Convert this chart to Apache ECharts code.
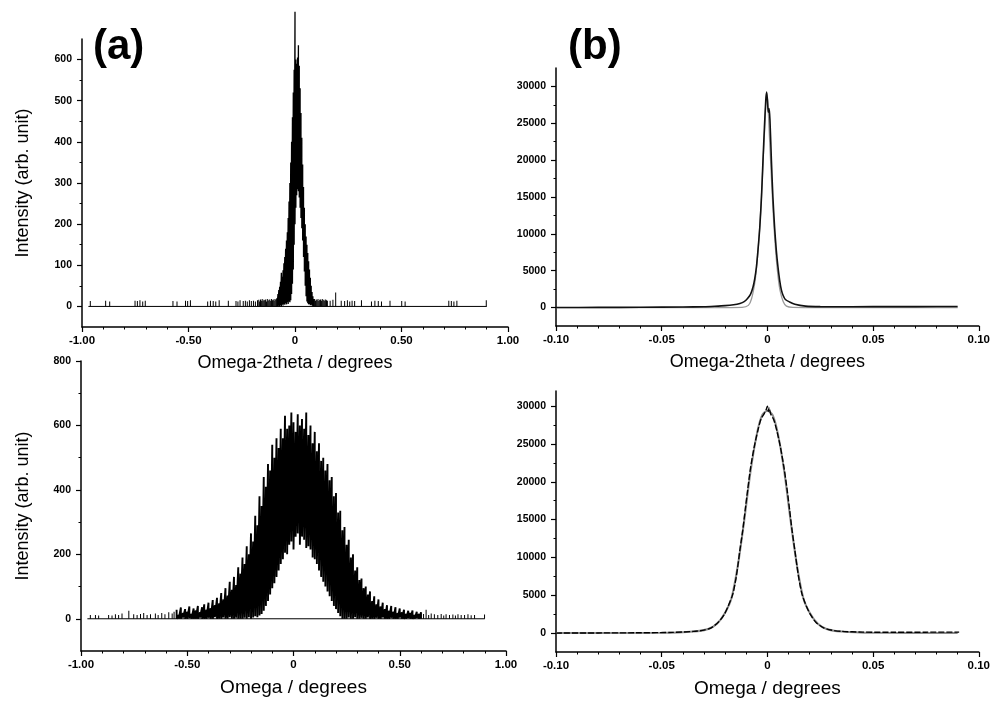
<!DOCTYPE html>
<html><head><meta charset="utf-8">
<script src="https://cdn.jsdelivr.net/npm/echarts@6/dist/echarts.min.js"></script>
<style>html,body{margin:0;padding:0;background:#fff}#c{width:993px;height:704px}</style>
</head><body><div id="c"></div>
<script>
const FONT = '"Liberation Sans", Arial, sans-serif';

// ---------- tick labels ----------
const aXTicks = [-1, -0.5, 0, 0.5, 1];
const aXTickLabels = ['-1.00', '-0.50', '0', '0.50', '1.00'];
const bXTicks = [-0.1, -0.05, 0, 0.05, 0.1];
const bXTickLabels = ['-0.10', '-0.05', '0', '0.05', '0.10'];
const aTopYTicks = [0, 100, 200, 300, 400, 500, 600];
const aTopYMinor = [50, 150, 250, 350, 450, 550];
const aBotYTicks = [0, 200, 400, 600, 800];
const aBotYMinor = [100, 300, 500, 700];
const bYTicks = [0, 5000, 10000, 15000, 20000, 25000, 30000];
const bYMinor = [2500, 7500, 12500, 17500, 22500, 27500];

// ---------- (a) top: Omega-2theta, wide range ----------
const aTopBaseX = [-0.97, 0.90];
const aTopBaseY = [0, 0];
const aTopSpikeX = [
  -0.961, -0.889, -0.870, -0.751, -0.740, -0.728, -0.715, -0.703,
  -0.573, -0.554, -0.514, -0.504, -0.491, -0.410, -0.397, -0.384, -0.372, -0.356,
  -0.313, -0.277, -0.268, -0.258, -0.243, -0.233, -0.224, -0.214, -0.205, -0.195, -0.186, -0.176,
  -0.170, -0.166, -0.162, -0.158, -0.154, -0.150, -0.146, -0.142, -0.138, -0.134, -0.130,
  -0.126, -0.122, -0.118, -0.114, -0.110, -0.106, -0.102, -0.098, -0.094, -0.090, -0.086,
  0.092, 0.096, 0.100, 0.104, 0.108, 0.112, 0.116, 0.120, 0.124, 0.128, 0.132, 0.136, 0.140, 0.144, 0.148, 0.152,
  0.165, 0.178, 0.191, 0.217, 0.233, 0.246, 0.257, 0.268, 0.280, 0.312, 0.359, 0.375, 0.391, 0.406,
  0.446, 0.501, 0.517, 0.722, 0.734, 0.746, 0.760, 0.898
];
const aTopSpikeH = [
  13, 14, 12, 14, 13, 15, 12, 14,
  13, 12, 14, 13, 15, 12, 14, 13, 12, 15,
  14, 13, 12, 15, 13, 14, 12, 15, 13, 14, 12, 15,
  16, 12, 17, 14, 18, 13, 16, 15, 17, 12, 18,
  14, 16, 17, 13, 18, 15, 17, 14, 18, 16, 20,
  18, 14, 17, 15, 18, 13, 16, 17, 14, 18, 15, 16, 13, 17, 15, 14,
  14, 16, 34, 14, 13, 15, 12, 14, 13, 15, 12, 14, 13, 12,
  14, 13, 12, 14, 13, 12, 14, 15
];
const aTopPeakX = [
  -0.084, -0.080, -0.076, -0.072, -0.068, -0.064, -0.060, -0.056, -0.052, -0.048, -0.044,
  -0.040, -0.036, -0.032, -0.028, -0.024, -0.020, -0.016, -0.012, -0.008, -0.004, 0.000,
  0.004, 0.008, 0.012, 0.016, 0.020, 0.024, 0.028, 0.032, 0.036, 0.040, 0.044,
  0.048, 0.052, 0.056, 0.060, 0.064, 0.068, 0.072, 0.076, 0.080, 0.084, 0.088
];
const aTopPeakHi = [
  18, 30, 40, 48, 60, 82, 72, 88, 105, 120, 140,
  160, 180, 215, 255, 300, 350, 400, 460, 520, 575, 716,
  600, 590, 605, 635, 585, 530, 470, 410, 345, 290, 240,
  200, 170, 150, 130, 110, 90, 70, 50, 35, 25, 18
];
const aTopPeakLo = [
  0, 0, 2, 0, 3, 0, 5, 2, 6, 4, 8,
  5, 10, 6, 12, 10, 15, 30, 55, 90, 150, 200,
  240, 270, 285, 280, 265, 240, 215, 190, 160, 120, 85,
  50, 25, 12, 8, 5, 6, 3, 4, 2, 0, 0
];

// ---------- (b) top: Omega-2theta, narrow range ----------
const bTopX = [-0.100, -0.080, -0.060, -0.040, -0.030, -0.025, -0.020, -0.016, -0.013, -0.011,
  -0.0095, -0.008, -0.0068, -0.006, -0.0052, -0.0044, -0.0036, -0.0028, -0.0021, -0.0014,
  -0.0008, -0.0004, 0.0000, 0.0004, 0.0008, 0.0012, 0.0019, 0.0026, 0.0034, 0.0042,
  0.0050, 0.0058, 0.0066, 0.0075, 0.0085, 0.0105, 0.0130, 0.0180, 0.0250, 0.0400,
  0.0600, 0.0800, 0.0900];
const bTopY = [0, 20, 40, 80, 120, 180, 260, 380, 560, 800,
  1200, 1800, 2800, 3900, 5500, 8000, 10900, 15000, 19900, 24500,
  28000, 29200, 28200, 26500, 27000, 25500, 19900, 15000, 10900, 7800,
  5500, 3700, 2400, 1600, 1100, 760, 450, 200, 130, 120,
  130, 140, 150];
const bTopFitX = [-0.100, -0.020, -0.012, -0.009, -0.0075, -0.006, -0.005, -0.004, -0.003, -0.002,
  -0.001, -0.0004, 0.0002, 0.001, 0.002, 0.003, 0.004, 0.005, 0.006, 0.0075,
  0.009, 0.012, 0.020, 0.090];
const bTopFitY = [0, 0, 20, 300, 1200, 3300, 5800, 9300, 14000, 20000,
  26000, 29300, 27800, 23000, 17000, 11500, 7300, 4300, 2300, 800,
  200, 20, 0, 0];

// ---------- (a) bottom: Omega, wide range ----------
const aBotBaseX = [-0.97, 0.90];
const aBotBaseY = [0, 0];
const aBotSpikeX = [-0.956, -0.932, -0.917, -0.870, -0.854, -0.838, -0.823, -0.807, -0.775, -0.752,
  -0.736, -0.720, -0.705, -0.689, -0.673, -0.650, -0.637, -0.620, -0.605, -0.587, -0.571, -0.562,
  0.612, 0.624, 0.636, 0.648, 0.663, 0.679, 0.695, 0.707, 0.718, 0.734,
  0.750, 0.762, 0.774, 0.789, 0.805, 0.821, 0.836, 0.852, 0.899];
const aBotSpikeH = [12, 12, 10, 12, 10, 14, 12, 16, 25, 14,
  12, 15, 18, 12, 14, 16, 12, 18, 14, 20, 16, 22,
  15, 28, 12, 16, 14, 12, 15, 10, 14, 12,
  13, 10, 14, 12, 12, 14, 11, 12, 13];
const aBotNoiseX = [
  -0.55, -0.54, -0.53, -0.52, -0.51, -0.50, -0.49, -0.48, -0.47, -0.46,
  -0.45, -0.44, -0.43, -0.42, -0.41, -0.40, -0.39, -0.38, -0.37, -0.36,
  -0.35, -0.34, -0.33, -0.32, -0.31, -0.30, -0.29, -0.28, -0.27, -0.26,
  -0.25, -0.24, -0.23, -0.22, -0.21, -0.20, -0.19, -0.18, -0.17, -0.16,
  -0.15, -0.14, -0.13, -0.12, -0.11, -0.10, -0.09, -0.08, -0.07, -0.06,
  -0.05, -0.04, -0.03, -0.02, -0.01, 0.00, 0.01, 0.02, 0.03, 0.04,
  0.05, 0.06, 0.07, 0.08, 0.09, 0.10, 0.11, 0.12, 0.13, 0.14,
  0.15, 0.16, 0.17, 0.18, 0.19, 0.20, 0.21, 0.22, 0.23, 0.24,
  0.25, 0.26, 0.27, 0.28, 0.29, 0.30, 0.31, 0.32, 0.33, 0.34,
  0.35, 0.36, 0.37, 0.38, 0.39, 0.40, 0.41, 0.42, 0.43, 0.44,
  0.45, 0.46, 0.47, 0.48, 0.49, 0.50, 0.51, 0.52, 0.53, 0.54,
  0.55, 0.56, 0.57, 0.58, 0.59, 0.60
];
const aBotNoiseHi = [
  28, 12, 35, 18, 30, 22, 38, 15, 32, 26,
  40, 20, 36, 45, 28, 50, 33, 58, 42, 65,
  48, 80, 60, 95, 72, 115, 90, 130, 105, 160,
  140, 190, 170, 225, 200, 265, 240, 320, 290, 380,
  350, 440, 410, 480, 460, 540, 500, 560, 530, 590,
  560, 630, 590, 600, 640, 610, 580, 635, 600, 620,
  590, 640, 570, 600, 545, 580, 520, 545, 490, 500,
  460, 480, 430, 440, 380, 390, 330, 335, 275, 285,
  230, 245, 190, 200, 150, 160, 120, 125, 95, 100,
  75, 85, 55, 70, 45, 60, 38, 50, 30, 42,
  25, 40, 22, 36, 18, 32, 20, 28, 15, 25,
  18, 26, 12, 22, 15, 20
];
const aBotNoiseLo = [
  0, 0, 0, 4, 0, 0, 3, 0, 0, 0,
  0, 4, 0, 0, 0, 3, 0, 0, 5, 0,
  0, 0, 4, 0, 0, 5, 0, 0, 3, 0,
  0, 0, 3, 0, 5, 0, 4, 8, 5, 10,
  15, 25, 40, 55, 75, 95, 110, 130, 150, 170,
  185, 205, 200, 230, 240, 215, 255, 265, 230, 255,
  245, 220, 225, 215, 190, 185, 170, 150, 130, 115,
  100, 85, 70, 55, 40, 30, 18, 8, 0, 0,
  0, 4, 0, 0, 5, 0, 0, 3, 0, 0,
  4, 0, 0, 0, 3, 0, 0, 4, 0, 0,
  0, 3, 0, 0, 0, 4, 0, 0, 0, 3,
  0, 0, 0, 3, 0, 0
];

// ---------- (b) bottom: Omega, narrow range ----------
const bBotX = [-0.100, -0.080, -0.060, -0.045, -0.035, -0.030, -0.0266, -0.023, -0.0204, -0.0185,
  -0.0164, -0.015, -0.0141, -0.013, -0.0117, -0.0105, -0.0094, -0.008, -0.0063, -0.0045,
  -0.003, -0.0015, -0.0005, 0.0000, 0.0004, 0.0008, 0.0015, 0.003, 0.0045, 0.0062,
  0.008, 0.0094, 0.0105, 0.0117, 0.013, 0.0141, 0.015, 0.0164, 0.0185, 0.0203,
  0.023, 0.0266, 0.030, 0.035, 0.045, 0.060, 0.075, 0.0907];
const bBotY = [0, 20, 40, 90, 220, 400, 700, 1500, 2470, 3600,
  5120, 7000, 8640, 11000, 13500, 16300, 18790, 21800, 24520, 26800,
  28300, 29000, 29600, 30000, 29300, 29800, 29000, 28200, 26700, 24520,
  21600, 18790, 16300, 13500, 10900, 8640, 7000, 5120, 3500, 2470,
  1400, 700, 400, 230, 130, 110, 120, 130];
const bBotFitX = [-0.100, -0.050, -0.035, -0.028, -0.024, -0.020, -0.017, -0.014, -0.011, -0.008,
  -0.005, -0.0025, 0.000, 0.0025, 0.005, 0.008, 0.011, 0.014, 0.017, 0.020,
  0.024, 0.028, 0.035, 0.050, 0.090];
const bBotFitY = [0, 30, 200, 550, 1200, 2700, 4600, 8900, 14800, 21300,
  26300, 28800, 29400, 28800, 26300, 21300, 14800, 8900, 4600, 2700,
  1200, 550, 200, 30, 0];

// ---------- helpers ----------
const pairs = (xs, ys) => xs.map((x, i) => [x, ys[i]]);
const zig = (xs, hi, lo) => {
  const out = [];
  xs.forEach((x, i) => { out.push([x, hi[i]]); out.push([x, lo[i]]); });
  return out;
};
const lookup = (ticks, labels) => v => {
  for (let i = 0; i < ticks.length; i++) if (Math.abs(ticks[i] - v) < 1e-9) return labels[i];
  return '';
};

const tickLabelStyle = { color: '#000', fontFamily: FONT, fontWeight: 'bold' };
const nameStyle = (size) => ({ color: '#000', fontFamily: FONT, fontSize: size });

function xAx(grid, min, max, interval, ticks, labels, name, nameSize) {
  return {
    type: 'value', gridIndex: grid, min: min, max: max, interval: interval, position: 'bottom',
    axisLine: { show: true, onZero: false, lineStyle: { color: '#000', width: 1.5 } },
    axisTick: { show: true, length: 5, lineStyle: { color: '#000', width: 1.2 } },
    minorTick: { show: true, splitNumber: 5, length: 2.5, lineStyle: { color: '#000', width: 1 } },
    splitLine: { show: false }, minorSplitLine: { show: false },
    axisLabel: Object.assign({ margin: 8, fontSize: 11.5, formatter: lookup(ticks, labels) }, tickLabelStyle),
    name: name, nameLocation: 'middle', nameGap: 27, nameTextStyle: nameStyle(nameSize)
  };
}
function yAx(grid, min, max, ticks, name, gap) {
  return {
    type: 'value', gridIndex: grid, min: min, max: max, position: 'left',
    axisLine: { show: true, onZero: false, lineStyle: { color: '#000', width: 1.5 } },
    axisTick: { show: true, length: 5, customValues: ticks, lineStyle: { color: '#000', width: 1.2 } },
    axisLabel: Object.assign({ margin: 10, fontSize: 10.5, customValues: ticks, formatter: v => String(v) }, tickLabelStyle),
    splitLine: { show: false },
    name: name || '', nameLocation: 'middle', nameGap: gap || 0, nameTextStyle: nameStyle(18)
  };
}
function yMinor(grid, min, max, ticks) {
  return {
    type: 'value', gridIndex: grid, min: min, max: max, position: 'left',
    axisLine: { show: false, onZero: false },
    axisTick: { show: true, length: 2.5, customValues: ticks, lineStyle: { color: '#000', width: 1 } },
    axisLabel: { show: false }, splitLine: { show: false }
  };
}

const chart = echarts.init(document.getElementById('c'), null, { renderer: 'canvas' });
const black = { color: '#000', width: 1 };
chart.setOption({
  animation: false,
  backgroundColor: '#fff',
  title: [
    { text: '(a)', left: 93, top: 26, padding: 0, textStyle: { fontFamily: FONT, fontSize: 42, fontWeight: 'bold', color: '#000' } },
    { text: '(b)', left: 568, top: 26, padding: 0, textStyle: { fontFamily: FONT, fontSize: 42, fontWeight: 'bold', color: '#000' } }
  ],
  grid: [
    { left: 82, top: 39, width: 426, height: 288 },
    { left: 556, top: 68, width: 427, height: 258 },
    { left: 81, top: 361, width: 425, height: 290 },
    { left: 556, top: 391, width: 427, height: 261 }
  ],
  xAxis: [
    xAx(0, -1, 1, 0.5, aXTicks, aXTickLabels, 'Omega-2theta / degrees', 18),
    xAx(1, -0.1, 0.1, 0.05, bXTicks, bXTickLabels, 'Omega-2theta / degrees', 18),
    xAx(2, -1, 1, 0.5, aXTicks, aXTickLabels, 'Omega / degrees', 19),
    xAx(3, -0.1, 0.1, 0.05, bXTicks, bXTickLabels, 'Omega / degrees', 19)
  ],
  yAxis: [
    yAx(0, -50, 650, aTopYTicks, 'Intensity (arb. unit)', 50),
    yAx(1, -2500, 32500, bYTicks),
    yAx(2, -100, 800, aBotYTicks, 'Intensity (arb. unit)', 49),
    yAx(3, -2500, 32000, bYTicks),
    yMinor(0, -50, 650, aTopYMinor),
    yMinor(1, -2500, 32500, bYMinor),
    yMinor(2, -100, 800, aBotYMinor),
    yMinor(3, -2500, 32000, bYMinor)
  ],
  series: [
    { type: 'line', xAxisIndex: 0, yAxisIndex: 0, data: pairs(aTopBaseX, aTopBaseY), symbol: 'none', lineStyle: black },
    { type: 'bar', xAxisIndex: 0, yAxisIndex: 0, data: pairs(aTopSpikeX, aTopSpikeH), barWidth: 1, itemStyle: { color: '#000' } },
    { type: 'line', xAxisIndex: 0, yAxisIndex: 0, data: zig(aTopPeakX, aTopPeakHi, aTopPeakLo), symbol: 'none', clip: false, lineStyle: { color: '#000', width: 1.3 } },

    { type: 'line', xAxisIndex: 1, yAxisIndex: 1, data: pairs(bTopFitX, bTopFitY), symbol: 'none', smooth: 0.25, lineStyle: { color: '#9a9a9a', width: 1.3 } },
    { type: 'line', xAxisIndex: 1, yAxisIndex: 1, data: pairs(bTopX, bTopY), symbol: 'none', smooth: 0.25, lineStyle: { color: '#111', width: 1.6 } },

    { type: 'line', xAxisIndex: 2, yAxisIndex: 2, data: pairs(aBotBaseX, aBotBaseY), symbol: 'none', lineStyle: black },
    { type: 'bar', xAxisIndex: 2, yAxisIndex: 2, data: pairs(aBotSpikeX, aBotSpikeH), barWidth: 1, itemStyle: { color: '#000' } },
    { type: 'line', xAxisIndex: 2, yAxisIndex: 2, data: zig(aBotNoiseX, aBotNoiseHi, aBotNoiseLo), symbol: 'none', lineStyle: { color: '#000', width: 1.9 } },

    { type: 'line', xAxisIndex: 3, yAxisIndex: 3, data: pairs(bBotFitX, bBotFitY), symbol: 'none', smooth: 0.25, lineStyle: { color: '#8a8a8a', width: 2 } },
    { type: 'line', xAxisIndex: 3, yAxisIndex: 3, data: pairs(bBotX, bBotY), symbol: 'none', smooth: 0.25, lineStyle: { color: '#000', width: 1.4, type: [6, 2] } }
  ]
});
</script></body></html>
